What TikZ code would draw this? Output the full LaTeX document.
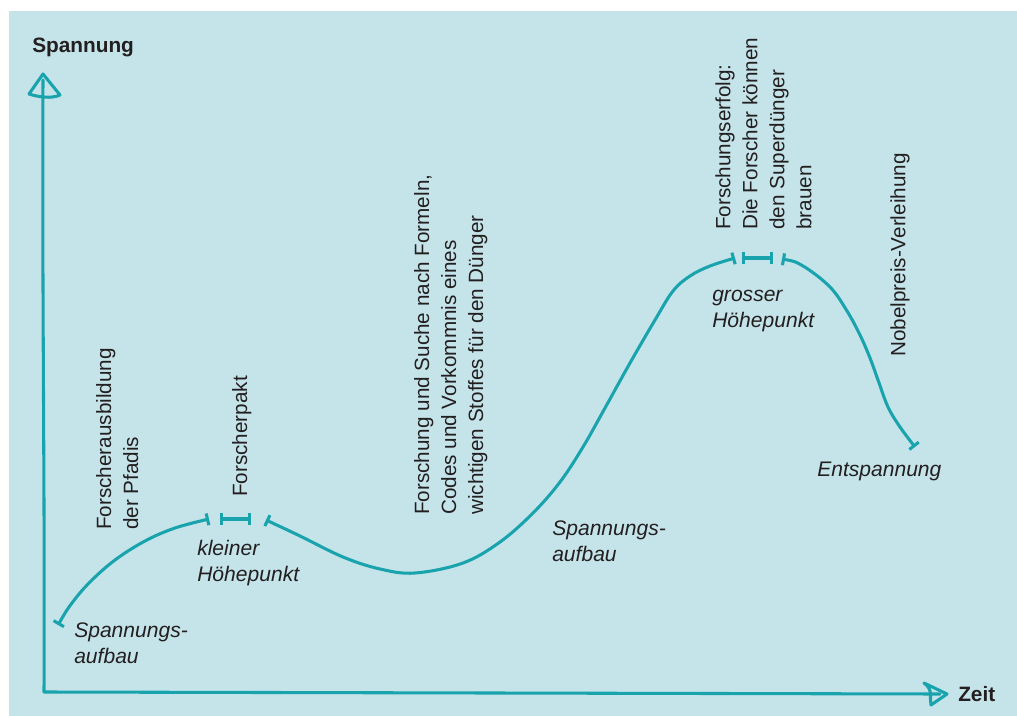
\documentclass[tikz,border=0pt]{standalone}
\usepackage{fontspec}
\setmainfont{Liberation Sans}
\usetikzlibrary{arrows.meta}
\definecolor{bgc}{HTML}{C5E4EA}
\definecolor{tealc}{HTML}{19A3AD}
\definecolor{txt}{HTML}{231F20}
\tikzset{
  lbl/.style={text=txt, inner sep=0pt, font=\fontsize{15.5pt}{20.25pt}\selectfont},
  rlbl/.style={lbl, rotate=90, align=left, anchor=north west},
  ilbl/.style={lbl, align=left, anchor=north west, font=\fontsize{15.8pt}{19.5pt}\selectfont\itshape},
  axlbl/.style={lbl, anchor=base west, font=\fontsize{15.6pt}{19pt}\selectfont\bfseries},
  curve/.style={draw=tealc, line width=2.3pt, line cap=round, line join=round},
  ticks/.style={{Bar[width=9pt]}-{Bar[width=9pt]}},
  axis/.style={draw=tealc, line width=2.3pt, line cap=round, line join=round},
}
\begin{document}
\begin{tikzpicture}[x=0.75pt,y=-0.75pt]
\useasboundingbox (0,0) rectangle (1017,716);
\fill[white] (0,0) rectangle (1017,716);
\fill[bgc] (9,11) rectangle (1017,716);

% axes
\coordinate (O) at (44,692);
\coordinate (ytip) at (43,74);
\coordinate (xtip) at (947,694);
\draw[axis] (43,80) .. controls (42,300) and (45,500) .. (O) -- (940,694);
\draw[axis] (29,94) -- (ytip) -- (60,95) .. controls (52,99) and (38,97) .. (29,94);
\draw[axis] (924,683) -- (xtip) -- (931,705) .. controls (929,698) and (934,690) .. (924,683);

% axis labels
\node[axlbl] (ylab) at (32,53) {Spannung};
\node[axlbl] (xlab) at (958,701) {Zeit};

% curve segments
\draw[curve, ticks] plot[smooth, tension=0.6] coordinates
  {(58,625) (72,603) (90,582) (115,560) (145,541) (175,528) (209,519)};
\draw[curve, ticks] (220,519) -- (251,519);
\draw[curve, ticks] plot[smooth, tension=0.6] coordinates
  {(266,520) (300,536) (343,557) (380,569) (415,573) (463,563) (500,542) (533,513) (560,482) (583,447) (605,408) (630,363) (655,320) (673,291) (690,276) (710,266) (735,258)};
\draw[curve, ticks] (742,258) -- (773,258);
\draw[curve, ticks] plot[smooth, tension=0.6] coordinates
  {(782,259) (803,266) (830,287) (847,311) (860,335) (870,358) (878,380) (888,407) (900,427) (915,447)};

% italic labels
\node[ilbl] (sa1) at (74,623) {Spannungs-\\aufbau};
\node[ilbl] (kh) at (197,540) {kleiner\\Höhepunkt};
\node[ilbl] (sa2) at (552,521) {Spannungs-\\aufbau};
\node[ilbl] (gh) at (712,287) {\vphantom{H}grosser\\Höhepunkt};
\node[ilbl] (ent) at (817,462) {Entspannung};

% rotated labels
\node[rlbl] (fa) at (96,530) {Forscherausbildung\\der Pfadis};
\node[rlbl] (fp) at (232,497) {Forscherpakt};
\node[rlbl] (fs) at (414,515) {Forschung und Suche nach Formeln,\\Codes und Vorkommnis eines\\wichtigen Stoffes für den Dünger};
\node[rlbl] (fe) at (715,230) {Forschungserfolg:\\Die Forscher können\\den Superdünger\\brauen};
\node[rlbl] (nv) at (890,357) {Nobelpreis-Verleihung};
\end{tikzpicture}
\end{document}
